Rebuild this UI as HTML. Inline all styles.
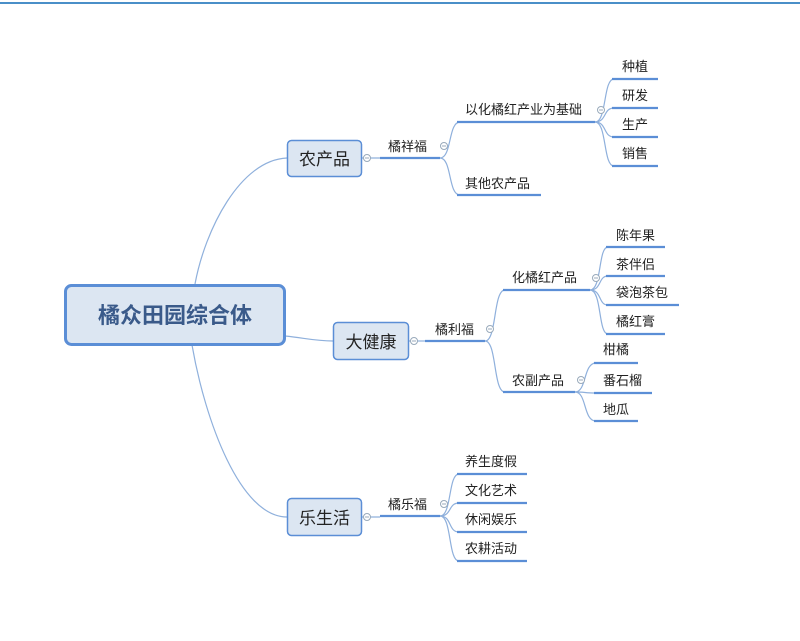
<!DOCTYPE html>
<html><head><meta charset="utf-8"><style>
body{margin:0;background:#fff;}
svg text{font-family:"Liberation Sans","Noto Sans CJK SC",sans-serif;fill:#222;}
</style></head><body>
<svg width="800" height="636" viewBox="0 0 800 636" xmlns="http://www.w3.org/2000/svg">
<rect x="0" y="2" width="800" height="2" fill="#4a8fc8"/>
<g fill="none" stroke="#8fb0dc" stroke-width="1.2">
<path d="M195 284 C205 230 240 160 287 158"/>
<path d="M285 336 C305 338 315 341 333 341"/>
<path d="M192 345 C205 420 240 517 287 517"/>
<!-- 橘祥福 -->
<path d="M440 158 C452 158 448 122 460 122"/>
<path d="M440 158 C452 158 448 195 460 195"/>
<path d="M595 122 C607 122 603 79 614 79"/>
<path d="M595 122 C607 122 603 108 614 108"/>
<path d="M595 122 C607 122 603 137 614 137"/>
<path d="M595 122 C607 122 603 166 614 166"/>
<!-- 橘利福 -->
<path d="M485 341 C497 341 493 290 505 290"/>
<path d="M485 341 C497 341 493 392 505 392"/>
<path d="M590 290 C602 290 598 247 608 247"/>
<path d="M590 290 C602 290 598 276 608 276"/>
<path d="M590 290 C602 290 598 305 608 305"/>
<path d="M590 290 C602 290 598 334 608 334"/>
<path d="M575 392 C587 392 583 363 596 363"/>
<path d="M575 392 C587 392 583 393 596 393"/>
<path d="M575 392 C587 392 583 421 596 421"/>
<!-- 橘乐福 -->
<path d="M440 516 C452 516 448 474 459 474"/>
<path d="M440 516 C452 516 448 503 459 503"/>
<path d="M440 516 C452 516 448 532 459 532"/>
<path d="M440 516 C452 516 448 561 459 561"/>
<path d="M362 158 H380"/><path d="M409 341 H425"/><path d="M362 517 H380"/>
</g>
<g stroke="#5b8ed6" stroke-width="2.2">
<line x1="380" y1="158" x2="440" y2="158"/>
<line x1="457" y1="122" x2="595" y2="122"/>
<line x1="457" y1="195" x2="541" y2="195"/>
<line x1="612" y1="79" x2="658" y2="79"/>
<line x1="612" y1="108" x2="658" y2="108"/>
<line x1="612" y1="137" x2="658" y2="137"/>
<line x1="612" y1="166" x2="658" y2="166"/>
<line x1="425" y1="341" x2="485" y2="341"/>
<line x1="503" y1="290" x2="590" y2="290"/>
<line x1="503" y1="392" x2="575" y2="392"/>
<line x1="606" y1="247" x2="665" y2="247"/>
<line x1="606" y1="276" x2="665" y2="276"/>
<line x1="606" y1="305" x2="679" y2="305"/>
<line x1="606" y1="334" x2="665" y2="334"/>
<line x1="594" y1="363" x2="638" y2="363"/>
<line x1="594" y1="393" x2="652" y2="393"/>
<line x1="594" y1="421" x2="638" y2="421"/>
<line x1="380" y1="516" x2="440" y2="516"/>
<line x1="457" y1="474" x2="527" y2="474"/>
<line x1="457" y1="503" x2="527" y2="503"/>
<line x1="457" y1="532" x2="527" y2="532"/>
<line x1="457" y1="561" x2="527" y2="561"/>
</g>
<g fill="#fff" stroke="#9ab" stroke-width="1">
<circle cx="367" cy="158" r="3.5"/><circle cx="444" cy="146" r="3.5"/><circle cx="601" cy="110" r="3.5"/>
<circle cx="414" cy="341" r="3.5"/><circle cx="490" cy="329" r="3.5"/><circle cx="596" cy="278" r="3.5"/><circle cx="581" cy="380" r="3.5"/>
<circle cx="367" cy="517" r="3.5"/><circle cx="444" cy="504" r="3.5"/>
</g>
<g stroke="#9ab" stroke-width="1"><line x1="365" y1="158" x2="369" y2="158"/><line x1="442" y1="146" x2="446" y2="146"/><line x1="599" y1="110" x2="603" y2="110"/><line x1="412" y1="341" x2="416" y2="341"/><line x1="488" y1="329" x2="492" y2="329"/><line x1="594" y1="278" x2="598" y2="278"/><line x1="579" y1="380" x2="583" y2="380"/><line x1="365" y1="517" x2="369" y2="517"/><line x1="442" y1="504" x2="446" y2="504"/></g>
<rect x="65.5" y="285.5" width="219" height="59" rx="6" fill="#dce6f2" stroke="#5b8ed6" stroke-width="3"/>
<text x="175" y="323" text-anchor="middle" font-size="22" font-weight="bold" style="fill:#3a5a8a">橘众田园综合体</text>
<rect x="287.5" y="140.5" width="74" height="36" rx="4" fill="#dce6f2" stroke="#5b8ed6" stroke-width="1.5"/>
<text x="324.5" y="165" text-anchor="middle" font-size="17">农产品</text>
<rect x="333.5" y="322.5" width="75" height="37" rx="4" fill="#dce6f2" stroke="#5b8ed6" stroke-width="1.5"/>
<text x="371" y="348" text-anchor="middle" font-size="17">大健康</text>
<rect x="287.5" y="498.5" width="74" height="37" rx="4" fill="#dce6f2" stroke="#5b8ed6" stroke-width="1.5"/>
<text x="324.5" y="524" text-anchor="middle" font-size="17">乐生活</text>
<g font-size="13">
<text x="388" y="151">橘祥福</text>
<text x="465" y="114">以化橘红产业为基础</text>
<text x="465" y="188">其他农产品</text>
<text x="622" y="71">种植</text><text x="622" y="100">研发</text><text x="622" y="129">生产</text><text x="622" y="158">销售</text>
<text x="435" y="334">橘利福</text>
<text x="512" y="282">化橘红产品</text>
<text x="512" y="385">农副产品</text>
<text x="616" y="240">陈年果</text><text x="616" y="269">茶伴侣</text><text x="616" y="297">袋泡茶包</text><text x="616" y="326">橘红膏</text>
<text x="603" y="354">柑橘</text><text x="603" y="385">番石榴</text><text x="603" y="414">地瓜</text>
<text x="388" y="509">橘乐福</text>
<text x="465" y="466">养生度假</text><text x="465" y="495">文化艺术</text><text x="465" y="524">休闲娱乐</text><text x="465" y="553">农耕活动</text>
</g>
</svg>
</body></html>
